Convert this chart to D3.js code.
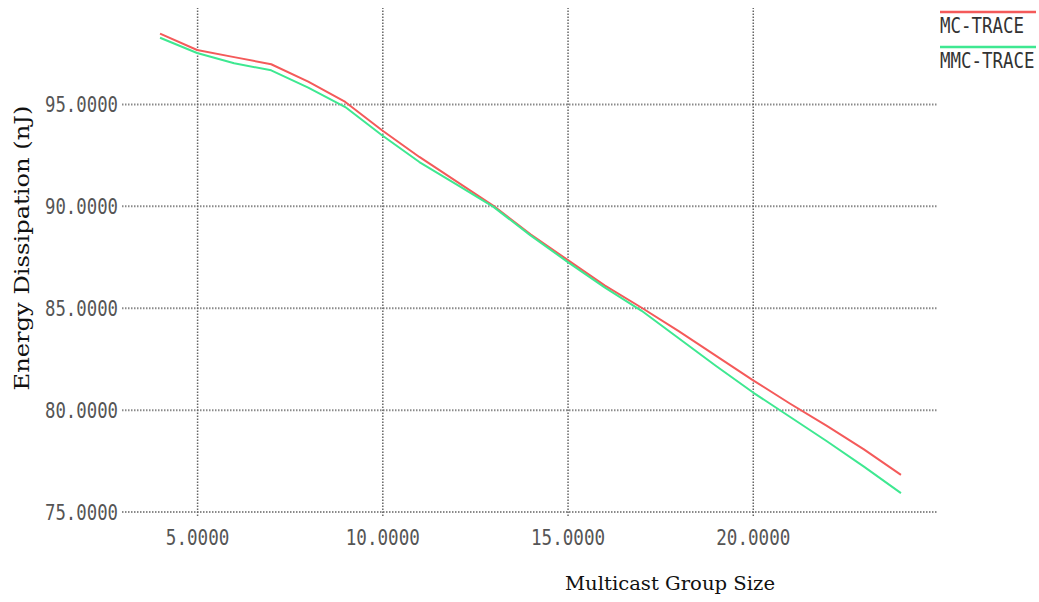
<!DOCTYPE html>
<html>
<head>
<meta charset="utf-8">
<script src="https://cdn.jsdelivr.net/npm/d3@7"></script>
<style>
  body { margin: 0; background: #fff; }
  svg { display: block; }
</style>
</head>
<body>
<div class="chart"></div>
<script>
var groupSize = [4, 5, 6, 7, 8, 9, 10, 11, 12, 13, 14, 15, 16, 17, 18, 19, 20, 21, 22, 23, 24];
var mcTrace  = [98.45, 97.65, 97.3, 96.95, 96.1, 95.1, 93.7, 92.4, 91.2, 90.0, 88.6, 87.35, 86.1, 85.0, 83.85, 82.65, 81.45, 80.3, 79.2, 78.05, 76.8];
var mmcTrace = [98.25, 97.5, 97.0, 96.65, 95.8, 94.85, 93.45, 92.15, 91.05, 89.95, 88.55, 87.25, 86.0, 84.85, 83.5, 82.15, 80.85, 79.65, 78.45, 77.2, 75.9];
var yTicks = [75, 80, 85, 90, 95];
var xTicks = [5, 10, 15, 20];
var seriesNames = ["MC-TRACE", "MMC-TRACE"];
var seriesColors = ["#f45a5a", "#3ee891"];

var svgWidth = 1039,
    svgHeight = 602,
    plotLeft = 122,
    plotRight = 938,
    plotTop = 8,
    plotBottom = 516;

var x = d3.scaleLinear().domain([3, 25]).range([123, plotRight]);
var y = d3.scaleLinear().domain([74.78, 99.71]).range([plotBottom, plotTop]);
var fmt = d3.format(".4f");

var svg = d3.select(".chart")
  .append("svg")
  .attr("width", svgWidth)
  .attr("height", svgHeight);

// horizontal grid + y labels
var yAxis = svg.append("g")
  .attr("transform", "translate(" + plotLeft + ",0)")
  .call(d3.axisLeft(y).tickValues(yTicks).tickFormat(fmt).tickSize(-(plotRight - plotLeft)).tickPadding(4));
yAxis.select(".domain").remove();
yAxis.selectAll(".tick line")
  .attr("stroke", "#8a8a8a")
  .attr("stroke-width", 2)
  .attr("stroke-dasharray", "1.5,1.5");
yAxis.selectAll(".tick text")
  .attr("fill", "#555")
  .attr("font-family", "DejaVu Sans Mono")
  .attr("font-size", 22)
  .attr("dy", "0.36em")
  .attr("textLength", 73)
  .attr("lengthAdjust", "spacingAndGlyphs");

// vertical grid + x labels
var xAxis = svg.append("g")
  .attr("transform", "translate(0," + plotBottom + ")")
  .call(d3.axisBottom(x).tickValues(xTicks).tickFormat(fmt).tickSize(-(plotBottom - plotTop)));
xAxis.select(".domain").remove();
xAxis.selectAll(".tick line")
  .attr("stroke", "#666")
  .attr("stroke-width", 1.5)
  .attr("stroke-dasharray", "1.5,1.5");
xAxis.selectAll(".tick text")
  .attr("fill", "#555")
  .attr("font-family", "DejaVu Sans Mono")
  .attr("font-size", 22)
  .attr("y", 29)
  .attr("dy", 0)
  .attr("textLength", function(d) { return fmt(d).length * 10.6; })
  .attr("lengthAdjust", "spacingAndGlyphs");

// lines
var series = [mcTrace, mmcTrace];
var line = d3.line()
  .x(function(d, i) { return x(groupSize[i]); })
  .y(function(d) { return y(d); });

svg.append("g")
  .selectAll("path")
  .data(series)
  .enter().append("path")
  .attr("fill", "none")
  .attr("stroke", function(d, i) { return seriesColors[i]; })
  .attr("stroke-width", 2)
  .attr("stroke-linejoin", "round")
  .attr("d", line);

// legend
var legend = svg.append("g")
  .selectAll("g")
  .data(seriesNames)
  .enter().append("g")
  .attr("transform", function(d, i) { return "translate(940," + (12 + i * 35) + ")"; });
legend.append("line")
  .attr("x1", 0).attr("x2", 96)
  .attr("stroke", function(d, i) { return seriesColors[i]; })
  .attr("stroke-width", 2.5);
legend.append("text")
  .attr("transform", "translate(0,21) scale(0.83,1)")
  .attr("fill", "#333")
  .attr("font-family", "DejaVu Sans Mono")
  .attr("font-size", 21)
  .text(function(d) { return d; });

// axis titles
svg.append("text")
  .attr("x", 670)
  .attr("y", 590)
  .attr("text-anchor", "middle")
  .attr("fill", "#111")
  .attr("font-family", "DejaVu Serif")
  .attr("font-size", 19)
  .attr("textLength", 210)
  .attr("lengthAdjust", "spacingAndGlyphs")
  .text("Multicast Group Size");

svg.append("text")
  .attr("transform", "translate(29,248) rotate(-90)")
  .attr("text-anchor", "middle")
  .attr("fill", "#111")
  .attr("font-family", "DejaVu Serif")
  .attr("font-size", 20)
  .attr("textLength", 285)
  .attr("lengthAdjust", "spacingAndGlyphs")
  .text("Energy Dissipation (nJ)");
</script>
</body>
</html>
